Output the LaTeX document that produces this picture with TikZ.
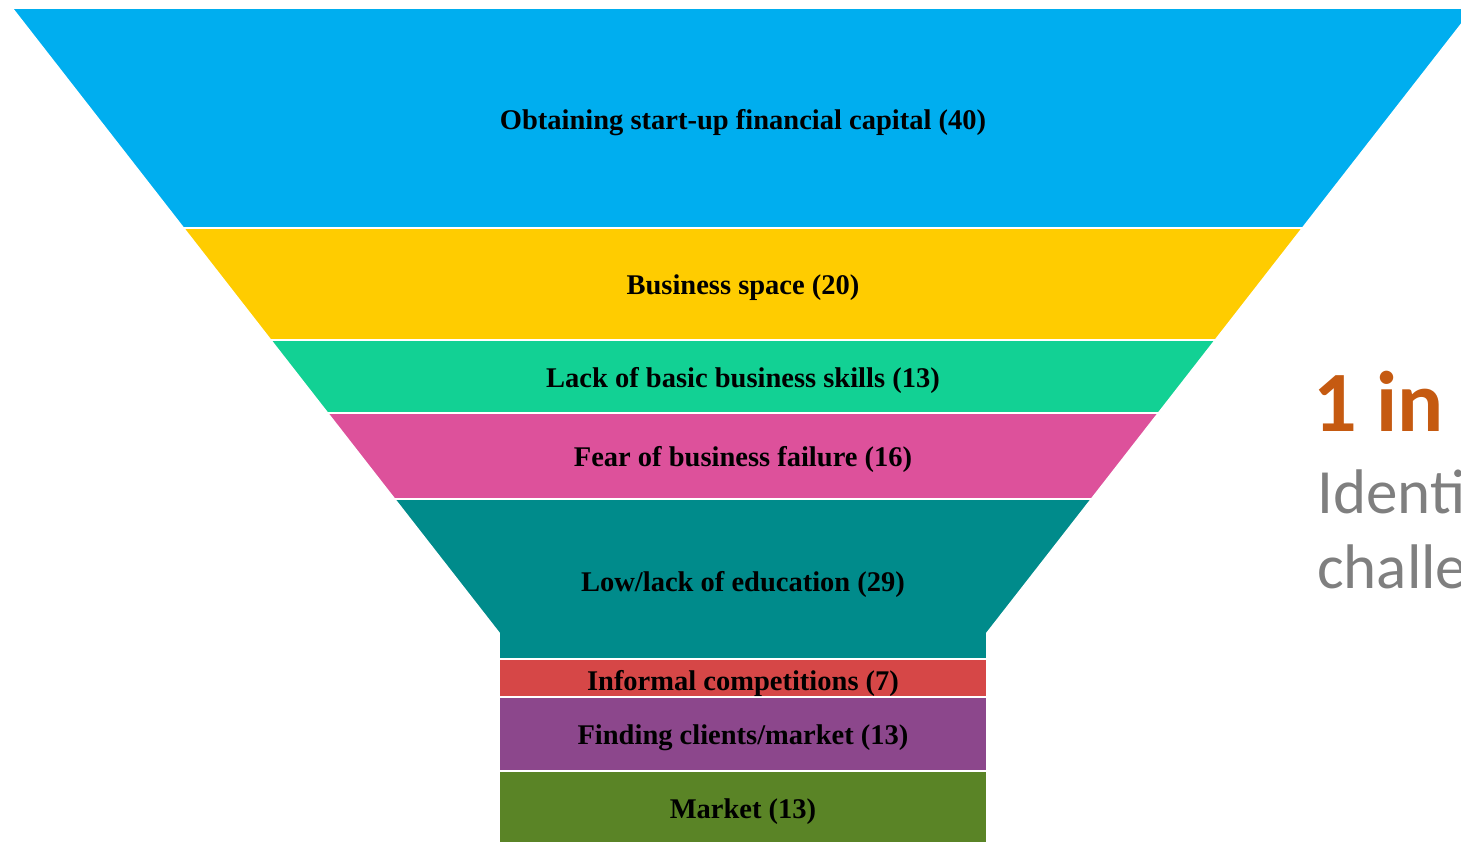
\documentclass[tikz,border=0pt]{standalone}
\usepackage{fontspec}
\usepackage{tikz}
\newfontfamily\funnelfont{Liberation Serif}
\newfontfamily\notefont{Carlito}
\definecolor{capblue}{RGB}{0,174,239}
\definecolor{spaceyellow}{RGB}{255,204,0}
\definecolor{skillgreen}{RGB}{18,209,148}
\definecolor{fearpink}{RGB}{221,81,155}
\definecolor{eduteal}{RGB}{0,139,139}
\definecolor{compred}{RGB}{214,71,71}
\definecolor{clientpurple}{RGB}{140,71,140}
\definecolor{marketgreen}{RGB}{90,132,38}
\definecolor{noteorange}{RGB}{197,90,17}
\definecolor{notegray}{RGB}{127,127,127}
\tikzset{
  band/.style={draw=white,line width=1.6pt},
  lbl/.style={font=\funnelfont\bfseries\fontsize{28.5}{30}\selectfont,text=black,inner sep=0pt}
}

\begin{document}
\begin{tikzpicture}[x=1pt,y=-1pt]
    \pgfmathsetmacro{\nk}{633}
    \pgfmathsetmacro{\bot}{850}
    \useasboundingbox (0,0) rectangle (1461,841);

    % Draw the funnel bands
    \fill [capblue,band] (12,8) -- (1474,8) -- (1302.6,228) -- (183.4,228) -- cycle;
    \fill [spaceyellow,band] (183.4,228) -- (1302.6,228) -- (1215.4,340) -- (270.6,340) -- cycle;
    \fill [skillgreen,band] (270.6,340) -- (1215.4,340) -- (1158.5,413) -- (327.5,413) -- cycle;
    \fill [fearpink,band] (327.5,413) -- (1158.5,413) -- (1091.5,499) -- (394.5,499) -- cycle;
    \fill [eduteal,band] (394.5,499) -- (1091.5,499) -- (987,\nk) -- (987,659)
          -- (499,659) -- (499,\nk) -- cycle;
    \fill [compred,band] (499,659) rectangle (987,697);
    \fill [clientpurple,band] (499,697) rectangle (987,771);
    \fill [marketgreen,band] (499,771) rectangle (987,\bot);

    % Band labels
    \node [lbl] (capital) at (743,123) {Obtaining start-up financial capital (40)};
    \node [lbl] (space) at (743,288) {Business space (20)};
    \node [lbl] (skills) at (743,380) {Lack of basic business skills (13)};
    \node [lbl] (fear) at (743,459) {Fear of business failure (16)};
    \node [lbl] (edu) at (743,584) {Low/lack of education (29)};
    \node [lbl] (comp) at (743,683) {Informal competitions (7)};
    \node [lbl] (clients) at (743,738) {Finding clients/market (13)};
    \node [lbl] (market) at (743,812) {Market (13)};

    % Side note
    \node [anchor=base west,inner sep=0pt,text=noteorange,
           font=\notefont\bfseries\fontsize{86}{90}\selectfont] (ratio) at (1313,431) {1 in};
    \node [anchor=base west,inner sep=0pt,text=notegray,
           font=\notefont\fontsize{63}{70}\selectfont] (identi) at (1317,513) {Identi};
    \node [anchor=base west,inner sep=0pt,text=notegray,
           font=\notefont\fontsize{63}{70}\selectfont] (challe) at (1317,588) {challe};

\end{tikzpicture}
\end{document}
